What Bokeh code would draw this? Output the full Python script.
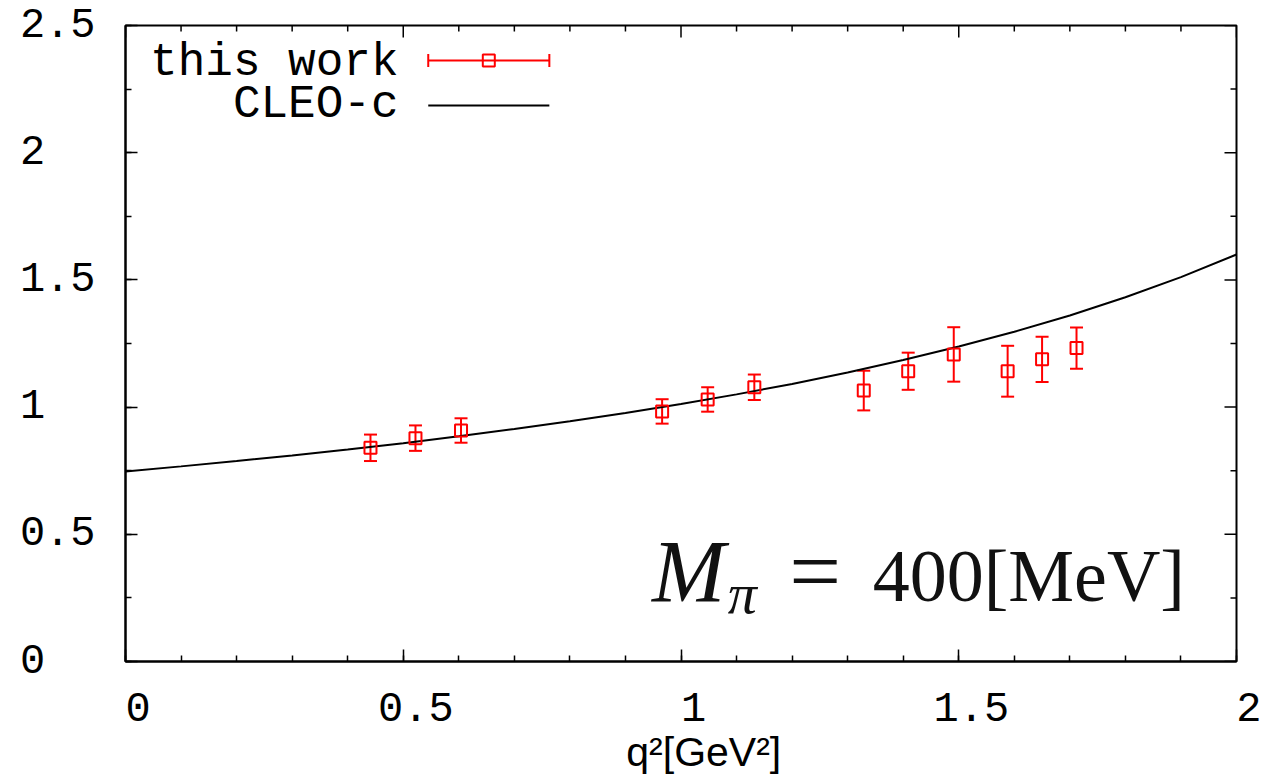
import math
from bokeh.plotting import figure
from bokeh.models import (ColumnDataSource, Range1d, FixedTicker,
                          Whisker, TeeHead, Label)
from bokeh.embed import file_html
from bokeh.resources import INLINE

# ---------------- data ----------------
q2 = [0.441, 0.522, 0.604, 0.966, 1.048, 1.132, 1.329, 1.409, 1.491, 1.588, 1.650, 1.712]
ff = [0.840, 0.878, 0.908, 0.983, 1.030, 1.078, 1.065, 1.141, 1.207, 1.141, 1.188, 1.232]
ff_err = [0.052, 0.050, 0.048, 0.048, 0.048, 0.050, 0.078, 0.073, 0.107, 0.100, 0.089, 0.081]

cleo_q2 = [0.0, 0.1, 0.2, 0.3, 0.4, 0.5, 0.6, 0.7, 0.8, 0.9, 1.0,
           1.1, 1.2, 1.3, 1.4, 1.5, 1.6, 1.7, 1.8, 1.9, 2.0]
cleo_ff = [0.747, 0.767, 0.788, 0.810, 0.833, 0.858, 0.885, 0.914, 0.944, 0.977, 1.012,
           1.050, 1.091, 1.136, 1.185, 1.238, 1.296, 1.360, 1.432, 1.511, 1.600]

X_MIN, X_MAX = 0, 2
Y_MIN, Y_MAX = 0, 2.5
x_ticks = [0, 0.5, 1, 1.5, 2]
x_minor = [round(0.1 * i, 1) for i in range(21)]
y_ticks = [0, 0.5, 1, 1.5, 2, 2.5]
y_minor = [0.25 * i for i in range(11)]
x_tick_labels = ["0", "0.5", "1", "1.5", "2"]
y_tick_labels = ["0", "0.5", "1", "1.5", "2", "2.5"]

legend_labels = ["this work", "CLEO-c"]
annotation = ["M", "\u03c0", "=", "400[MeV]"]
x_title = "q\u00b2[GeV\u00b2]"

# ---------------- styling ----------------
RED = "#ff0000"
MONO = "Liberation Mono"
TICK_FONT = "42px"

p = figure(frame_width=1111, frame_height=636,
           min_border_left=125, min_border_right=25,
           min_border_top=25, min_border_bottom=118,
           x_range=Range1d(X_MIN, X_MAX), y_range=Range1d(Y_MIN, Y_MAX),
           output_backend="svg", toolbar_location=None,
           background_fill_color="white", border_fill_color="white")

p.xgrid.grid_line_color = None
p.ygrid.grid_line_color = None
p.outline_line_color = "black"
p.outline_line_width = 2


def style_axis(ax, ticks, minor, labels, standoff):
    ax.ticker = FixedTicker(ticks=ticks, minor_ticks=minor)
    ax.axis_line_color = "black"
    ax.axis_line_width = 2
    ax.major_tick_in = 12
    ax.major_tick_out = 0
    ax.minor_tick_in = 6
    ax.minor_tick_out = 0
    ax.major_tick_line_width = 1.5
    ax.minor_tick_line_width = 1.5
    ax.major_tick_line_color = "black"
    ax.minor_tick_line_color = "black"
    ax.major_label_text_font = MONO
    ax.major_label_text_font_size = TICK_FONT
    ax.major_label_text_color = "black"
    ax.major_label_standoff = standoff
    ax.major_label_overrides = labels


nb = "\u00a0"
xlab = {t: nb + s for t, s in zip(x_ticks, x_tick_labels)}
ylab = {t: s + nb * (3 - len(s)) for t, s in zip(y_ticks, y_tick_labels)}

style_axis(p.xaxis[0], x_ticks, x_minor, xlab, standoff=24)
style_axis(p.yaxis[0], y_ticks, y_minor, ylab, standoff=30)
p.yaxis[0].major_label_orientation = "horizontal"

p.xaxis[0].axis_label = nb * 4 + x_title
p.xaxis[0].axis_label_text_font = "Liberation Sans"
p.xaxis[0].axis_label_text_font_size = "41px"
p.xaxis[0].axis_label_text_font_style = "normal"
p.xaxis[0].axis_label_text_color = "black"
p.xaxis[0].axis_label_standoff = -8

# mirrored ticks on top and right edges (gnuplot style)
x_minor_only = [v for v in x_minor if v not in x_ticks]
y_minor_only = [v for v in y_minor if v not in y_ticks]
p.ray(x=x_ticks, y=[Y_MAX] * len(x_ticks), length=12, length_units="screen",
      angle=-math.pi / 2, line_color="black", line_width=1.5)
p.ray(x=x_minor_only, y=[Y_MAX] * len(x_minor_only), length=6, length_units="screen",
      angle=-math.pi / 2, line_color="black", line_width=1.5)
p.ray(x=[X_MAX] * len(y_ticks), y=y_ticks, length=12, length_units="screen",
      angle=math.pi, line_color="black", line_width=1.5)
p.ray(x=[X_MAX] * len(y_minor_only), y=y_minor_only, length=6, length_units="screen",
      angle=math.pi, line_color="black", line_width=1.5)

# ---------------- CLEO-c curve ----------------
p.line(cleo_q2, cleo_ff, line_color="black", line_width=2)

# ---------------- lattice points with error bars ----------------
src = ColumnDataSource(dict(
    x=q2, y=ff,
    lo=[v - e for v, e in zip(ff, ff_err)],
    hi=[v + e for v, e in zip(ff, ff_err)],
))
wh = Whisker(source=src, base="x", lower="lo", upper="hi", dimension="height",
             line_color=RED, line_width=2,
             upper_head=TeeHead(size=13, line_color=RED, line_width=2),
             lower_head=TeeHead(size=13, line_color=RED, line_width=2))
p.add_layout(wh)
p.scatter("x", "y", source=src, marker="square", size=12,
          fill_color=None, line_color=RED, line_width=2)

# ---------------- legend (gnuplot style: text, then sample) ----------------
LEG_TEXT_X = 0.4915
LEG_SAMPLE_X0 = 0.545
LEG_SAMPLE_X1 = 0.763
LEG_ROW_Y = [2.362, 2.186]
LEG_TEXT_Y = [2.352, 2.187]

for lbl, ty in zip(legend_labels, LEG_TEXT_Y):
    p.add_layout(Label(x=LEG_TEXT_X, y=ty, text=lbl, text_align="right",
                       text_baseline="alphabetic", text_font=MONO,
                       text_font_size="46px", text_color="black"))

leg_src = ColumnDataSource(dict(y=[LEG_ROW_Y[0]], l=[LEG_SAMPLE_X0], r=[LEG_SAMPLE_X1],
                                xm=[(LEG_SAMPLE_X0 + LEG_SAMPLE_X1) / 2]))
p.add_layout(Whisker(source=leg_src, base="y", lower="l", upper="r", dimension="width",
                     line_color=RED, line_width=2,
                     upper_head=TeeHead(size=13, line_color=RED, line_width=2),
                     lower_head=TeeHead(size=13, line_color=RED, line_width=2)))
p.scatter("xm", "y", source=leg_src, marker="square", size=12,
          fill_color=None, line_color=RED, line_width=2)
p.segment(x0=[LEG_SAMPLE_X0], y0=[LEG_ROW_Y[1]], x1=[LEG_SAMPLE_X1], y1=[LEG_ROW_Y[1]],
          line_color="black", line_width=2)

# ---------------- M_pi = 400[MeV] ----------------
SERIF = "Liberation Serif"
INK = "#111111"
p.add_layout(Label(x=0.948, y=0.352, text=annotation[0], text_font=SERIF,
                   text_font_style="italic", text_font_size="88px",
                   text_baseline="alphabetic", text_color=INK))
p.add_layout(Label(x=1.084, y=0.268, text=annotation[1], text_font=SERIF,
                   text_font_style="italic", text_font_size="58px",
                   text_baseline="alphabetic", text_color=INK))
p.add_layout(Label(x=1.195, y=0.354, text=annotation[2], text_font=SERIF,
                   text_font_size="92px", text_baseline="alphabetic",
                   text_color=INK))
p.add_layout(Label(x=1.345, y=0.336, text=annotation[3], text_font=SERIF,
                   text_font_size="74px", text_baseline="alphabetic",
                   text_color=INK))

open("out.html", "w").write(file_html(p, INLINE))
